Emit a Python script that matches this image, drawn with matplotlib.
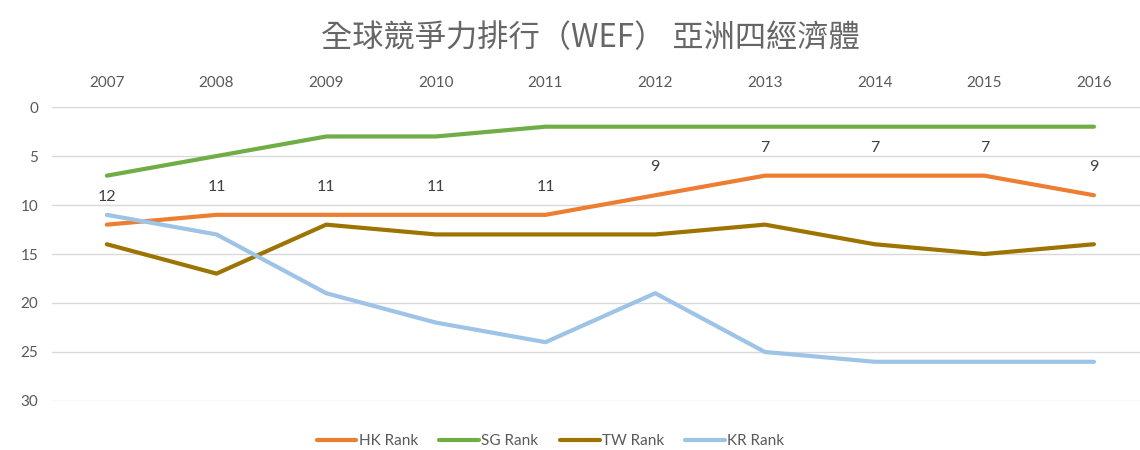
import matplotlib
matplotlib.use("Agg")
import matplotlib.pyplot as plt

years = ["2007", "2008", "2009", "2010", "2011", "2012", "2013", "2014", "2015", "2016"]
hk_rank = [12, 11, 11, 11, 11, 9, 7, 7, 7, 9]
sg_rank = [7, 5, 3, 3, 2, 2, 2, 2, 2, 2]
tw_rank = [14, 17, 12, 13, 13, 13, 12, 14, 15, 14]
kr_rank = [11, 13, 19, 22, 24, 19, 25, 26, 26, 26]
series_names = ["HK Rank", "SG Rank", "TW Rank", "KR Rank"]
colors = ["#ED7D31", "#70AD47", "#9E7400", "#9DC3E6"]
title = "全球競爭力排行（WEF） 亞洲四經濟體"

plt.rcParams['font.family'] = ['Lato', 'Noto Sans CJK TC', 'DejaVu Sans']

fig = plt.figure(figsize=(11.4, 4.5), dpi=100)
ax = fig.add_axes([0.0456, 0.109, 0.9544, 0.653])

x = list(range(len(years)))
for vals, name, c in zip([hk_rank, sg_rank, tw_rank, kr_rank], series_names, colors):
    ax.plot(x, vals, color=c, lw=3, label=name, solid_capstyle='round', solid_joinstyle='round')

for xi, v in zip(x, hk_rank):
    ax.annotate(str(v), (xi, v), xytext=(0, 20), textcoords='offset points',
                ha='center', va='center', fontsize=11.5, color='#404040')

ax.set_ylim(30, 0)
ax.set_xlim(-0.5, 9.42)
ax.set_yticks([0, 5, 10, 15, 20, 25, 30])
ax.set_xticks(x)
ax.set_xticklabels(years)
ax.xaxis.tick_top()
ax.tick_params(axis='both', length=0, labelsize=11, labelcolor='#595959')
ax.tick_params(axis='x', pad=12)
ax.tick_params(axis='y', pad=10)
ax.grid(axis='y', color='#D9D9D9', lw=1)
ax.set_axisbelow(True)
for s in ax.spines.values():
    s.set_visible(False)

fig.text(0.518, 0.915, title, ha='center', va='center', fontsize=22.5, color='#666666',
         family=['Noto Sans CJK TC', 'DejaVu Sans'], fontweight='light')

fig.legend(loc='center', bbox_to_anchor=(0.483, 0.02), ncol=4, frameon=False,
           fontsize=11, labelcolor='#595959', handlelength=2.6, handletextpad=0.15,
           columnspacing=1.4)

fig.savefig("out.png", dpi=100)
